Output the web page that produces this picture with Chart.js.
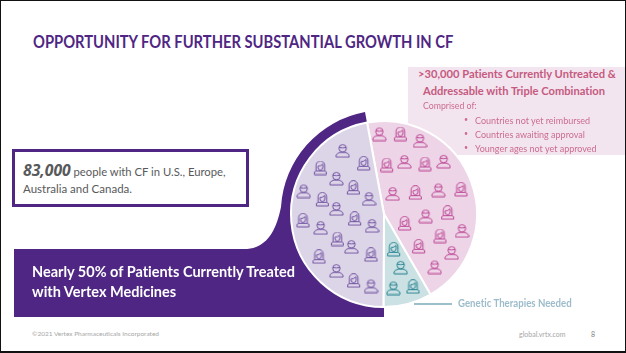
<!DOCTYPE html>
<html><head><meta charset="utf-8">
<script src="https://cdn.jsdelivr.net/npm/chart.js@4"></script>
<style>
html,body{margin:0;padding:0;background:#fff}
#s{position:relative;width:626px;height:353px;overflow:hidden;background:#fff;font-family:Lato,"Open Sans",sans-serif;font-variant-ligatures:none}
#s>*{position:absolute}
.t{white-space:nowrap;line-height:1;transform-origin:left center}
#frame{left:0;top:0;width:624px;height:350px;border:1px solid #111;border-bottom-width:2px;pointer-events:none}
</style></head><body>
<div id="s">
<div style="left:408px;top:67px;width:218px;height:88px;background:#f3e5ef"></div>
<svg style="left:0;top:0" width="626" height="353">
<path d="M14 249 L244 249 C266 249 276 232 281 207 A103 103 0 0 1 365 112 L384 214 L384 317 L14 317 Z" fill="#4f2683"/>
</svg>
<div style="left:12px;top:149px;width:231px;height:52px;border:3px solid #4f2683;background:#fff"></div>
<canvas id="pie" width="200" height="200" style="left:284px;top:114px"></canvas>
<canvas id="people" width="230" height="230" style="left:260px;top:100px"></canvas>
<div class="t" style="left:33px;top:34px;font-size:16.5px;font-weight:700;color:#4f2683;transform:scaleX(.893)">OPPORTUNITY FOR FURTHER SUBSTANTIAL GROWTH IN CF</div>
<div class="t" style="left:23px;top:162px;font-size:11.5px;color:#58595b;transform:scaleX(.98)"><b style="font-size:16px;font-style:italic;font-family:'Open Sans'">83,000</b> people with CF in U.S., Europe,</div>
<div class="t" style="left:23px;top:183px;font-size:11.5px;color:#58595b">Australia and Canada.</div>
<div class="t" style="left:32px;top:265px;font-size:14.5px;font-weight:700;color:#fff">Nearly 50% of Patients Currently Treated</div>
<div class="t" style="left:32px;top:285px;font-size:14.5px;font-weight:700;color:#fff">with Vertex Medicines</div>
<div class="t" style="left:418px;top:68px;font-size:12px;font-weight:700;color:#c55a80;transform:scaleX(.93)">&gt;30,000 Patients Currently Untreated &amp;</div>
<div class="t" style="left:423px;top:85px;font-size:12px;font-weight:700;color:#c55a80;transform:scaleX(.93)">Addressable with Triple Combination</div>
<div class="t" style="left:423px;top:101px;font-size:9.5px;color:#cb6c90;transform:scaleX(.92)">Comprised of:</div>
<div class="t" style="left:464px;top:116px;font-size:7px;color:#cb6c90">•</div>
<div class="t" style="left:475px;top:116px;font-size:9px;color:#cb6c90">Countries not yet reimbursed</div>
<div class="t" style="left:464px;top:130px;font-size:7px;color:#cb6c90">•</div>
<div class="t" style="left:475px;top:130px;font-size:9px;color:#cb6c90">Countries awaiting approval</div>
<div class="t" style="left:464px;top:144px;font-size:7px;color:#cb6c90">•</div>
<div class="t" style="left:475px;top:144px;font-size:9px;color:#cb6c90">Younger ages not yet approved</div>
<div style="left:414px;top:303px;width:38px;height:2px;background:#9dbfc9"></div>
<div class="t" style="left:458px;top:298px;font-size:10.5px;font-weight:700;color:#9dbccb;transform:scaleX(.92)">Genetic Therapies Needed</div>
<div class="t" style="left:32px;top:331px;font-size:6.5px;color:#a6a6a6">©2021 Vertex Pharmaceuticals Incorporated</div>
<div class="t" style="left:519px;top:331px;font-size:7px;color:#a6a6a6">global.vrtx.com</div>
<div class="t" style="left:591px;top:331px;font-size:7px;color:#808080">8</div>
<div id="frame"></div>
</div>
<script>
// Patient groups (approximate counts)
const groupLabels = ['Untreated & addressable', 'Genetic therapies needed', 'Treated with Vertex medicines'];
const groupValues = [37000, 7000, 39000];
const groupColors = ['#edd5e7', '#cbe1e3', '#dcd5e7'];

// Person markers, in the units of the marker layer
const pinkMaleX = [358,480,433,551,398,535,497,606,575,524];
const pinkMaleY = [102,122,185,184,281,270,348,392,458,501];
const pinkFemaleX = [421,380,495,466,603,434,563,540,476];
const pinkFemaleY = [102,195,192,278,268,370,338,408,439];
const purpleMaleX = [248,229,131,327,229,182,336,274,229,333];
const purpleMaleY = [152,235,273,296,326,383,377,440,512,558];
const purpleFemaleX = [311,181,280,187,284,129,232,333,177,281];
const purpleFemaleY = [190,204,263,298,356,361,417,464,470,542];
const tealMaleX = [422,400];
const tealMaleY = [502,564];
const tealFemaleX = [401,459];
const tealFemaleY = [448,560];

function icon(color, female){
  const c=document.createElement('canvas');c.width=15;c.height=15;
  const g=c.getContext('2d');g.strokeStyle=color;g.lineWidth=0.95;g.lineJoin='round';
  if(female){
    g.beginPath();g.moveTo(1.5,14);g.lineTo(1.5,11.5);g.lineTo(3.2,10.5);g.lineTo(11.8,10.5);g.lineTo(13.5,11.5);g.lineTo(13.5,14);g.closePath();g.stroke();
    g.beginPath();g.moveTo(3.2,10.5);g.lineTo(3.2,4.8);g.arc(7.5,4.8,4.3,Math.PI,0);g.lineTo(11.8,10.5);g.stroke();
    g.beginPath();g.moveTo(5,5.8);g.quadraticCurveTo(8,5.6,10,3.6);g.lineTo(10,7);g.arc(7.5,7,2.5,0,Math.PI);g.closePath();g.stroke();
  }else{
    g.beginPath();g.moveTo(1,14);g.lineTo(1,12);g.quadraticCurveTo(1.5,10.2,5,9.2);
    g.lineTo(10,9.2);g.quadraticCurveTo(13.5,10.2,14,12);g.lineTo(14,14);g.closePath();g.stroke();
    g.beginPath();g.arc(7.5,5.2,3.7,0,2*Math.PI);g.stroke();
    g.beginPath();g.moveTo(3.9,4.3);g.quadraticCurveTo(7.5,5.2,11.1,4.3);g.stroke();
  }
  return c;
}
function pts(xs,ys){return xs.map((x,i)=>({x,y:ys[i]}));}
function set(xs,ys,color,female){
  return {data:pts(xs,ys),pointStyle:icon(color,female),showLine:false,pointRadius:8,clip:false};
}
const PINK='#bb3f91',PURPLE='#6d4c9f',TEAL='#1f7f8e';

new Chart(document.getElementById('pie'),{
  type:'pie',
  data:{labels:groupLabels,datasets:[{data:groupValues,backgroundColor:groupColors,borderColor:'#fff',borderWidth:2}]},
  options:{responsive:false,animation:false,rotation:-10.5,radius:93,
    layout:{padding:0},plugins:{legend:{display:false},tooltip:{enabled:false}}}
});
new Chart(document.getElementById('people'),{
  type:'scatter',
  data:{datasets:[
    set(pinkMaleX,pinkMaleY,PINK,false),set(pinkFemaleX,pinkFemaleY,PINK,true),
    set(purpleMaleX,purpleMaleY,PURPLE,false),set(purpleFemaleX,purpleFemaleY,PURPLE,true),
    set(tealMaleX,tealMaleY,TEAL,false),set(tealFemaleX,tealFemaleY,TEAL,true)
  ]},
  options:{responsive:false,animation:false,layout:{padding:0,autoPadding:false},
    plugins:{legend:{display:false},tooltip:{enabled:false}},
    scales:{x:{type:'linear',min:0,max:690,display:false},y:{type:'linear',min:0,max:690,reverse:true,display:false}}}
});
</script>
</body></html>
